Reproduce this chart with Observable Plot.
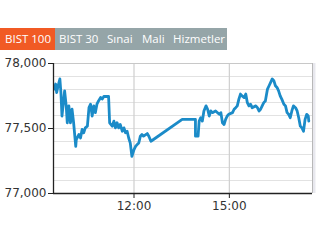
<!DOCTYPE html>
<html><head><meta charset="utf-8">
<script src="https://cdn.jsdelivr.net/npm/d3@7"></script>
<script src="https://cdn.jsdelivr.net/npm/@observablehq/plot@0.6"></script>
<style>
html,body{margin:0;padding:0;background:#fff;width:330px;height:247px;overflow:hidden;}
#tabs{position:absolute;left:0;top:28px;height:22px;width:227px;background:#95a5a8;font:11.5px "Open Sans",sans-serif;color:#fff;}
#tabs .on{position:absolute;left:0;top:0;width:55px;height:22px;background:#f15a24;}
#tabs span{position:absolute;top:0;line-height:22px;white-space:nowrap;}
#chart{position:absolute;left:0;top:50px;}
</style></head>
<body>
<div id="tabs"><div class="on"></div></div>
<div id="chart"></div>
<script>
const tabLabels = ["BIST 100","BIST 30","Sınai","Mali","Hizmetler"];
const tabLeft = [5,59,107,142,173];

const times = ["09:30","09:32","09:34","09:36","09:40","09:42","09:44","09:46","09:49","09:52","09:54","09:57","10:00","10:03","10:06","10:10","10:11","10:16","10:19","10:22","10:25","10:28","10:32","10:35","10:38","10:41","10:44","10:47","10:50","10:53","10:57","11:00","11:03","11:09","11:12","11:14","11:19","11:22","11:25","11:28","11:31","11:34","11:38","11:41","11:44","11:47","11:50","11:53","11:56","12:00","12:03","12:06","12:09","12:12","12:15","12:18","12:25","12:28","12:32","13:31","13:56","13:56","14:01","14:03","14:06","14:09","14:12","14:16","14:19","14:22","14:25","14:28","14:34","14:41","14:44","14:47","14:50","14:53","14:56","14:59","15:06","15:09","15:12","15:15","15:18","15:21","15:24","15:28","15:31","15:34","15:37","15:40","15:43","15:50","15:53","15:56","15:59","16:02","16:05","16:08","16:12","16:15","16:18","16:21","16:24","16:27","16:30","16:33","16:36","16:39","16:43","16:46","16:49","16:52","16:55","16:58","17:01","17:05","17:08","17:11","17:14","17:17","17:20","17:23","17:26","17:29","17:30"];
const values = [77803,77842,77777,77816,77881,77777,77596,77674,77790,77674,77544,77674,77544,77648,77544,77363,77415,77454,77427,77493,77467,77505,77518,77660,77687,77596,77674,77622,77687,77712,77738,77726,77746,77746,77746,77544,77518,77557,77505,77544,77505,77531,77479,77505,77467,77479,77427,77388,77285,77337,77363,77376,77388,77441,77454,77441,77461,77441,77402,77570,77570,77441,77441,77557,77583,77557,77635,77674,77648,77596,77635,77622,77635,77609,77622,77544,77531,77570,77596,77609,77622,77648,77660,77674,77726,77765,77751,77738,77765,77699,77674,77687,77660,77674,77660,77635,77648,77674,77699,77712,77803,77829,77855,77881,77868,77829,77816,77790,77751,77726,77687,77674,77622,77609,77583,77635,77674,77660,77635,77583,77518,77505,77479,77570,77609,77596,77557];

const yTicks = [77000,77500,78000];
const yGrid = [77000,77100,77200,77300,77400,77500,77600,77700,77800,77900,78000];
const xTicks = ["12:00","15:00"];
const xDomain = ["09:28","17:37"];

const tabs = document.getElementById("tabs");
tabLabels.forEach((t,i)=>{const s=document.createElement("span");s.textContent=t;s.style.left=tabLeft[i]+"px";tabs.appendChild(s);});

const parse = d3.timeParse("%H:%M");
const data = times.map((t,i)=>({t:parse(t), v:values[i]}));
const xt = xTicks.map(parse);
const xd = xDomain.map(parse);

const plot = Plot.plot({
  width:330, height:175,
  marginTop:13, marginBottom:32, marginLeft:53, marginRight:18,
  style:{fontFamily:"DejaVu Sans, sans-serif", fontSize:"12px", color:"#333", background:"transparent"},
  x:{type:"time", domain:xd, label:null},
  y:{domain:[77000,78000], label:null},
  marks:[
    Plot.ruleY(yGrid,{stroke:"#e2e2e2", strokeWidth:1}),
    Plot.ruleX(xt,{stroke:"#cfcfcf", strokeWidth:1.2}),
    Plot.ruleY([78000],{stroke:"#c8c8c8"}),
    Plot.ruleX([xd[1]],{stroke:"#e8e8ee", strokeWidth:3, dx:1.5}),
    Plot.ruleX([xd[1]],{stroke:"#b8b8b8", strokeWidth:1}),
    Plot.line(data,{x:"t", y:"v", stroke:"#1b8bc8", strokeWidth:2.8, strokeLinejoin:"round"}),
    Plot.ruleY([77000],{stroke:"#222", strokeWidth:1.3}),
    Plot.ruleX([xd[0]],{stroke:"#222", strokeWidth:1.3}),
    Plot.axisY(yTicks,{tickSize:5, tickPadding:2, tickFormat:d3.format(","), stroke:"#222", fill:"#333", label:null}),
    Plot.axisX(xt,{tickSize:5, tickPadding:3, tickFormat:d3.timeFormat("%H:%M"), stroke:"#222", fill:"#333", label:null})
  ]
});
document.getElementById("chart").appendChild(plot);
</script>
</body></html>
